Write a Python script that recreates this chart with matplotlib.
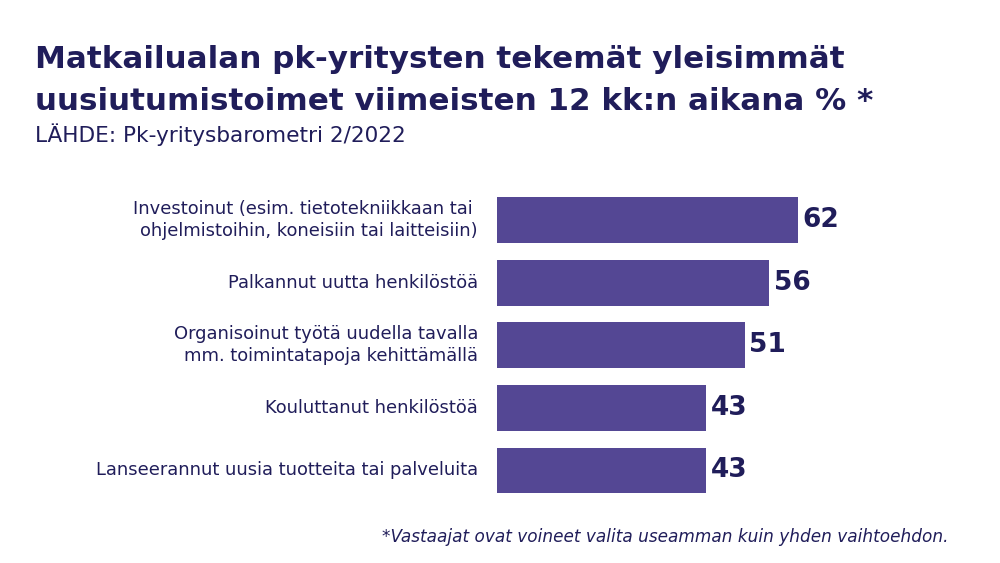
import matplotlib
matplotlib.use("Agg")
import matplotlib.pyplot as plt

# ── Data ───────────────────────────────────────────────
categories = [
    "Investoinut (esim. tietotekniikkaan tai \nohjelmistoihin, koneisiin tai laitteisiin)",
    "Palkannut uutta henkilöstöä",
    "Organisoinut työtä uudella tavalla\nmm. toimintatapoja kehittämällä",
    "Kouluttanut henkilöstöä",
    "Lanseerannut uusia tuotteita tai palveluita",
]
values = [62, 56, 51, 43, 43]

title_lines = [
    "Matkailualan pk-yritysten tekemät yleisimmät",
    "uusiutumistoimet viimeisten 12 kk:n aikana % *",
]
source = "LÄHDE: Pk-yritysbarometri 2/2022"
note = "*Vastaajat ovat voineet valita useamman kuin yhden vaihtoehdon."

# ── Theme ──────────────────────────────────────────────
NAVY = "#201d5a"
BAR = "#544794"
plt.rcParams["font.family"] = ["DejaVu Sans"]

fig = plt.figure(figsize=(10, 5.63), dpi=100, facecolor="white")
ax = fig.add_axes([0.497, 0.1087, 0.5, 0.556])

ys = list(range(len(values)))
ax.barh(ys, values, height=0.73, color=BAR, edgecolor="none")
ax.set_ylim(len(values) - 0.5, -0.5)
ax.set_xlim(0, 103)
ax.axis("off")

for y, v, lbl in zip(ys, values, categories):
    ax.text(v + 1, y, f"{v}", color=NAVY, fontsize=19, fontweight="bold",
            va="center", ha="left")
    ax.text(-3.9, y, lbl, color=NAVY, fontsize=12.9, va="center", ha="right",
            linespacing=1.3)

# title lines placed by baseline
for txt, yb in zip(title_lines, [0.8792, 0.8046]):
    fig.text(0.035, yb, txt, color=NAVY, fontsize=22.3, fontweight="bold",
             va="baseline", ha="left")
fig.text(0.035, 0.7478, source, color=NAVY, fontsize=15.6, va="baseline", ha="left")
fig.text(0.948, 0.046, note, color=NAVY, fontsize=12.2, style="italic",
         va="center", ha="right")

fig.savefig("out.png", dpi=100, facecolor="white")
